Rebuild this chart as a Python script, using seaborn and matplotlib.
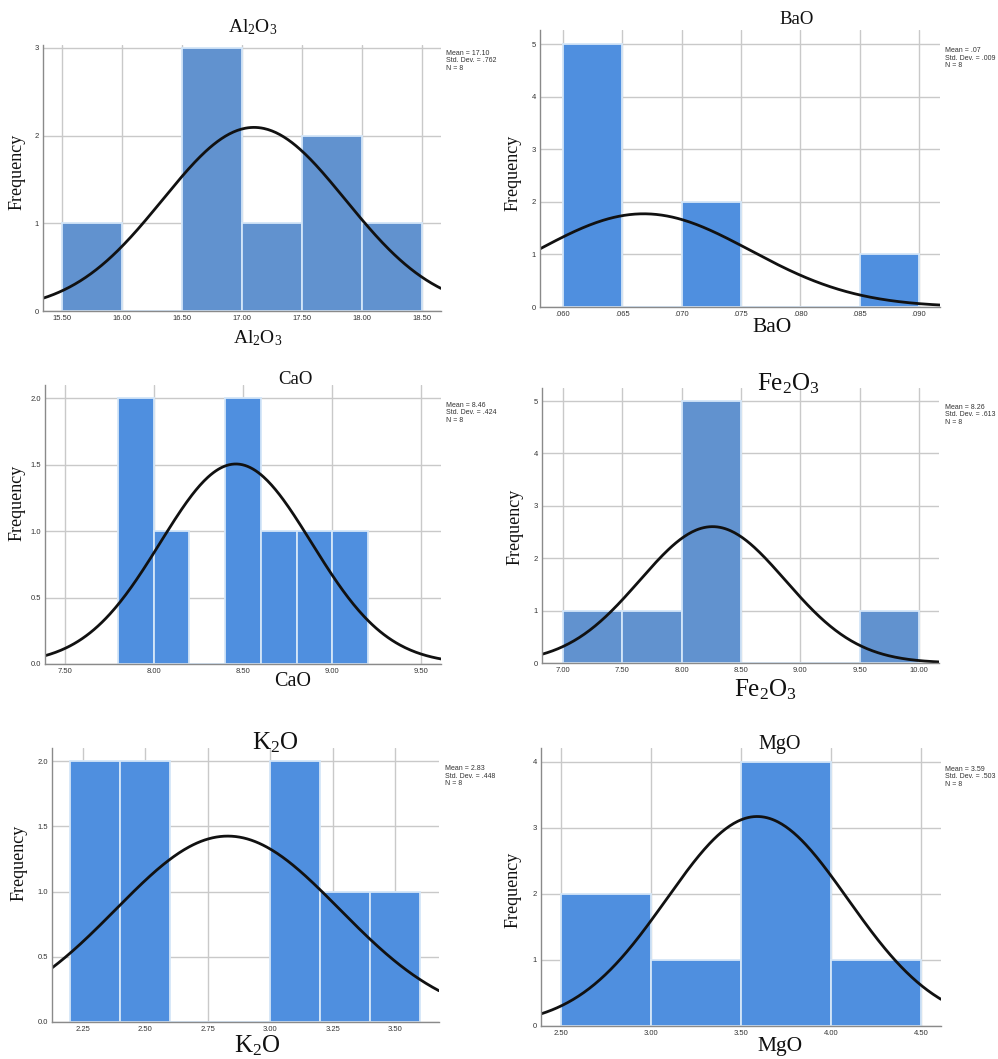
import numpy as np
import pandas as pd
import matplotlib
matplotlib.use("Agg")
import matplotlib.pyplot as plt
import seaborn as sns

sns.set_theme(style="white")
plt.rcParams["font.family"] = ["Liberation Sans", "DejaVu Sans"]
plt.rcParams["mathtext.fontset"] = "custom"
plt.rcParams["mathtext.rm"] = "Liberation Serif"
plt.rcParams["mathtext.it"] = "Liberation Serif:italic"

# ---- histogram data: left bin edges and their frequencies ----
al2o3_bins = [15.5, 16.0, 16.5, 17.0, 17.5, 18.0]
al2o3_counts = [1, 0, 3, 1, 2, 1]

bao_bins = [0.060, 0.065, 0.070, 0.075, 0.080, 0.085]
bao_counts = [5, 0, 2, 0, 0, 1]

cao_bins = [7.8, 8.0, 8.2, 8.4, 8.6, 8.8, 9.0]
cao_counts = [2, 1, 0, 2, 1, 1, 1]

fe2o3_bins = [7.0, 7.5, 8.0, 8.5, 9.0, 9.5]
fe2o3_counts = [1, 1, 5, 0, 0, 1]

k2o_bins = [2.2, 2.4, 2.6, 2.8, 3.0, 3.2, 3.4]
k2o_counts = [2, 2, 0, 0, 2, 1, 1]

mgo_bins = [2.5, 3.0, 3.5, 4.0]
mgo_counts = [2, 1, 4, 1]

# ---- descriptive statistics (mean, std. dev., N) ----
al2o3_stats = [17.10, 0.762, 8]
bao_stats = [0.0668, 0.009, 8]
cao_stats = [8.46, 0.424, 8]
fe2o3_stats = [8.26, 0.613, 8]
k2o_stats = [2.83, 0.448, 8]
mgo_stats = [3.59, 0.503, 8]

stat_texts = {
    "Al2O3": ["Mean = 17.10", "Std. Dev. = .762", "N = 8"],
    "BaO": ["Mean = .07", "Std. Dev. = .009", "N = 8"],
    "CaO": ["Mean = 8.46", "Std. Dev. = .424", "N = 8"],
    "Fe2O3": ["Mean = 8.26", "Std. Dev. = .613", "N = 8"],
    "K2O": ["Mean = 2.83", "Std. Dev. = .448", "N = 8"],
    "MgO": ["Mean = 3.59", "Std. Dev. = .503", "N = 8"],
}

# ---- tick values and labels ----
al2o3_xticks = [15.5, 16.0, 16.5, 17.0, 17.5, 18.0, 18.5]
al2o3_xlabels = ["15.50", "16.00", "16.50", "17.00", "17.50", "18.00", "18.50"]
bao_xticks = [0.060, 0.065, 0.070, 0.075, 0.080, 0.085, 0.090]
bao_xlabels = [".060", ".065", ".070", ".075", ".080", ".085", ".090"]
cao_xticks = [7.5, 8.0, 8.5, 9.0, 9.5]
cao_xlabels = ["7.50", "8.00", "8.50", "9.00", "9.50"]
fe2o3_xticks = [7.0, 7.5, 8.0, 8.5, 9.0, 9.5, 10.0]
fe2o3_xlabels = ["7.00", "7.50", "8.00", "8.50", "9.00", "9.50", "10.00"]
k2o_xticks = [2.25, 2.5, 2.75, 3.0, 3.25, 3.5]
k2o_xlabels = ["2.25", "2.50", "2.75", "3.00", "3.25", "3.50"]
mgo_xticks = [2.5, 3.0, 3.5, 4.0, 4.5]
mgo_xlabels = ["2.50", "3.00", "3.50", "4.00", "4.50"]

int_yticks_3 = [0, 1, 2, 3]
int_yticks_5 = [0, 1, 2, 3, 4, 5]
int_yticks_4 = [0, 1, 2, 3, 4]
half_yticks = [0.0, 0.5, 1.0, 1.5, 2.0]

W, H = 998, 1059
fig = plt.figure(figsize=(W / 100, H / 100), dpi=100)
fig.patch.set_facecolor("white")

BLUE = "#4f8fdf"
GREYBLUE = "#6192cf"
EDGE = "#d4e6f8"
GRID = "#c9c9c9"
SERIF = "Liberation Serif"


def px_axes(left, right, top, bottom):
    return fig.add_axes([left / W, 1 - bottom / H, (right - left) / W, (bottom - top) / H])


def fig_text(x, y, s, size, **kw):
    fig.text(x / W, 1 - y / H, s, fontsize=size, ha="center", va="center", **kw)


panels = [
    dict(bins=al2o3_bins, counts=al2o3_counts, stats=al2o3_stats, box=(43, 441, 45, 311),
         xlim=(15.34, 18.66), ylim=(0, 3.034), xt=al2o3_xticks, xl=al2o3_xlabels,
         yt=int_yticks_3, yfmt="{:.0f}", color=GREYBLUE,
         title=(r"Al$_2$O$_3$", 253, 27, 14), xlab=(r"Al$_2$O$_3$", 258, 338, 14),
         ylab=(17, 172), stat_key="Al2O3", stat_pos=(446, 50)),
    dict(bins=bao_bins, counts=bao_counts, stats=bao_stats, box=(540, 940, 30, 307),
         xlim=(0.05806, 0.09177), ylim=(0, 5.27), xt=bao_xticks, xl=bao_xlabels,
         yt=int_yticks_5, yfmt="{:.0f}", color=BLUE,
         title=("BaO", 797, 19, 13.5), xlab=("BaO", 772, 327, 15.5),
         ylab=(513, 173), stat_key="BaO", stat_pos=(945, 47)),
    dict(bins=cao_bins, counts=cao_counts, stats=cao_stats, box=(45, 441, 385, 664),
         xlim=(7.39, 9.61), ylim=(0, 2.1), xt=cao_xticks, xl=cao_xlabels,
         yt=half_yticks, yfmt="{:.1f}", color=BLUE,
         title=("CaO", 295, 379, 13.5), xlab=("CaO", 293, 682, 14.5),
         ylab=(17, 503), stat_key="CaO", stat_pos=(446, 402)),
    dict(bins=fe2o3_bins, counts=fe2o3_counts, stats=fe2o3_stats, box=(542, 939, 388, 663),
         xlim=(6.823, 10.168), ylim=(0, 5.25), xt=fe2o3_xticks, xl=fe2o3_xlabels,
         yt=int_yticks_5, yfmt="{:.0f}", color=GREYBLUE,
         title=(r"Fe$_2$O$_3$", 788, 384, 18), xlab=(r"Fe$_2$O$_3$", 765, 690, 18),
         ylab=(515, 527), stat_key="Fe2O3", stat_pos=(945, 404)),
    dict(bins=k2o_bins, counts=k2o_counts, stats=k2o_stats, box=(52, 439, 748, 1022),
         xlim=(2.126, 3.676), ylim=(0, 2.1), xt=k2o_xticks, xl=k2o_xlabels,
         yt=half_yticks, yfmt="{:.1f}", color=BLUE,
         title=(r"K$_2$O", 275, 743, 18), xlab=(r"K$_2$O", 257, 1046, 18),
         ylab=(19, 863), stat_key="K2O", stat_pos=(445, 765)),
    dict(bins=mgo_bins, counts=mgo_counts, stats=mgo_stats, box=(541, 941, 748, 1026),
         xlim=(2.389, 4.611), ylim=(0, 4.21), xt=mgo_xticks, xl=mgo_xlabels,
         yt=int_yticks_4, yfmt="{:.0f}", color=BLUE,
         title=("MgO", 780, 745, 14.5), xlab=("MgO", 780, 1047, 15.5),
         ylab=(513, 890), stat_key="MgO", stat_pos=(945, 766)),
]

for p in panels:
    ax = px_axes(*p["box"])
    bins = np.array(p["bins"], dtype=float)
    counts = np.array(p["counts"], dtype=float)
    bw = bins[1] - bins[0]
    edges = [float(e) for e in np.append(bins, bins[-1] + bw)]
    df = pd.DataFrame({"value": bins + bw / 2, "freq": counts})

    # grid drawn beneath the bars
    ax.set_axisbelow(True)
    ax.grid(True, color=GRID, linewidth=1.0)

    sns.histplot(data=df, x="value", weights="freq", bins=edges, ax=ax,
                 color=p["color"], edgecolor=EDGE, linewidth=1.3, alpha=1.0)

    # fitted normal curve scaled to frequencies
    mean, sd, n = p["stats"]
    xs = np.linspace(p["xlim"][0], p["xlim"][1], 300)
    ys = n * bw * np.exp(-0.5 * ((xs - mean) / sd) ** 2) / (sd * np.sqrt(2 * np.pi))
    sns.lineplot(x=xs, y=ys, ax=ax, color="#111111", linewidth=2.0)

    ax.set_xlim(*p["xlim"])
    ax.set_ylim(*p["ylim"])
    ax.set_xticks(p["xt"])
    ax.set_xticklabels(p["xl"])
    ax.set_yticks(p["yt"])
    ax.set_yticklabels([p["yfmt"].format(v) for v in p["yt"]])
    ax.tick_params(axis="both", length=0, labelsize=5.5, labelcolor="#333333", pad=3)
    ax.set_xlabel("")
    ax.set_ylabel("")
    for side in ("top", "right"):
        ax.spines[side].set_visible(False)
    for side in ("left", "bottom"):
        ax.spines[side].set_color("#8a8a8a")
        ax.spines[side].set_linewidth(1.0)
    ax.set_facecolor("white")

    t, tx, ty, ts = p["title"]
    fig_text(tx, ty, t, ts, family=SERIF, color="#111111")
    t, tx, ty, ts = p["xlab"]
    fig_text(tx, ty, t, ts, family=SERIF, color="#111111")
    lx, ly = p["ylab"]
    fig_text(lx, ly, "Frequency", 13, family=SERIF, rotation=90, color="#111111")

    sx, sy = p["stat_pos"]
    fig.text(sx / W, 1 - sy / H, "\n".join(stat_texts[p["stat_key"]]),
             fontsize=5, ha="left", va="top", linespacing=1.1, color="#333333")

fig.savefig("out.png", dpi=100, facecolor="white")
